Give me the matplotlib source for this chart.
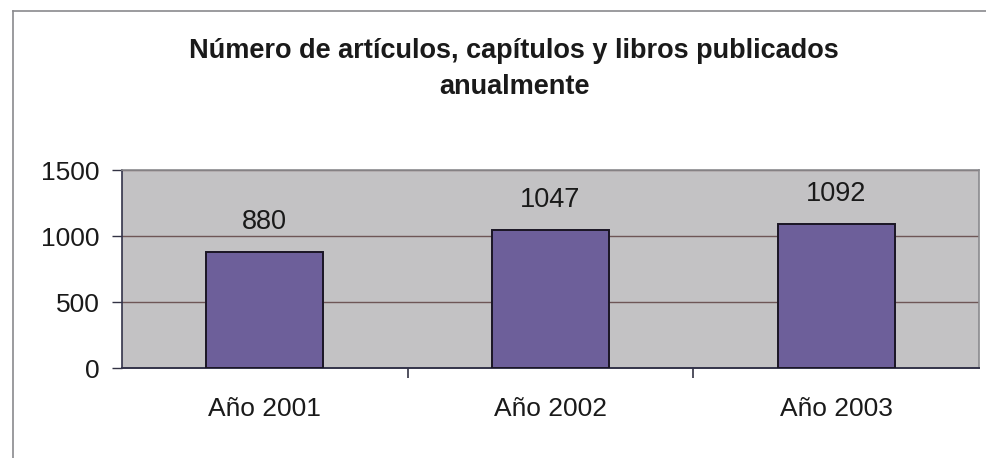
import matplotlib
matplotlib.use("Agg")
import matplotlib.pyplot as plt
from matplotlib.lines import Line2D

categories = ["Año 2001", "Año 2002", "Año 2003"]
values = [880, 1047, 1092]
yticks = [0, 500, 1000, 1500]
title = "Número de artículos, capítulos y libros publicados\nanualmente"

plt.rcParams['font.family'] = ['Liberation Sans', 'DejaVu Sans']

W, H = 986, 458
fig = plt.figure(figsize=(W / 100, H / 100), dpi=100)
fig.patch.set_facecolor("white")

# plot area in pixels
x0, x1 = 122, 979
y0, y1 = 368, 170
ax = fig.add_axes([x0 / W, 1 - y0 / H, (x1 - x0) / W, (y0 - y1) / H])
ax.set_facecolor("#c3c2c4")

x = list(range(len(categories)))
bars = ax.bar(x, values, width=0.41, color="#6d5f9a", edgecolor="#1a1524",
              linewidth=1.4, zorder=3)
ax.set_xlim(-0.5, len(categories) - 0.5)
ax.set_ylim(0, 1500)
ax.set_yticks(yticks)
ax.set_yticklabels([str(v) for v in yticks], fontsize=19, color="#1a1a1a")
ax.yaxis.grid(True, color="#6e5656", linewidth=1.0, zorder=1)
ax.set_axisbelow(True)

ax.set_xticks(x)
ax.set_xticklabels(categories, fontsize=19, color="#1a1a1a")
ax.tick_params(axis="x", length=0, pad=21)
ax.set_xticks([0.5, 1.5], minor=True)
ax.tick_params(axis="x", which="minor", length=7, width=1.2, color="#333344")
ax.tick_params(axis="y", length=7, width=1.0, color="#333344", pad=9)

for s in ["top", "right"]:
    ax.spines[s].set_color("#8a8a8e")
    ax.spines[s].set_linewidth(1.2)
ax.spines["left"].set_color("#33334a")
ax.spines["bottom"].set_color("#33334a")
ax.spines["left"].set_linewidth(1.2)
ax.spines["bottom"].set_linewidth(1.4)

for xi, v in zip(x, values):
    ax.annotate(str(v), (xi, v), xytext=(0, 12), textcoords="offset points",
                ha="center", va="bottom", fontsize=19.5, color="#1a1a1a")

fig.text(514 / W, 1 - 69 / H, title, ha="center", va="center",
         fontsize=19.5, fontweight="bold", color="#1a1a1a", linespacing=1.5)

# outer chart border (top and left visible)
fig.add_artist(Line2D([13 / W, 1], [1 - 11 / H, 1 - 11 / H], transform=fig.transFigure,
                      color="#8a8a8e", linewidth=1.2))
fig.add_artist(Line2D([13 / W, 13 / W], [0, 1 - 11 / H], transform=fig.transFigure,
                      color="#8a8a8e", linewidth=1.2))

fig.savefig("out.png", dpi=100, facecolor="white")
